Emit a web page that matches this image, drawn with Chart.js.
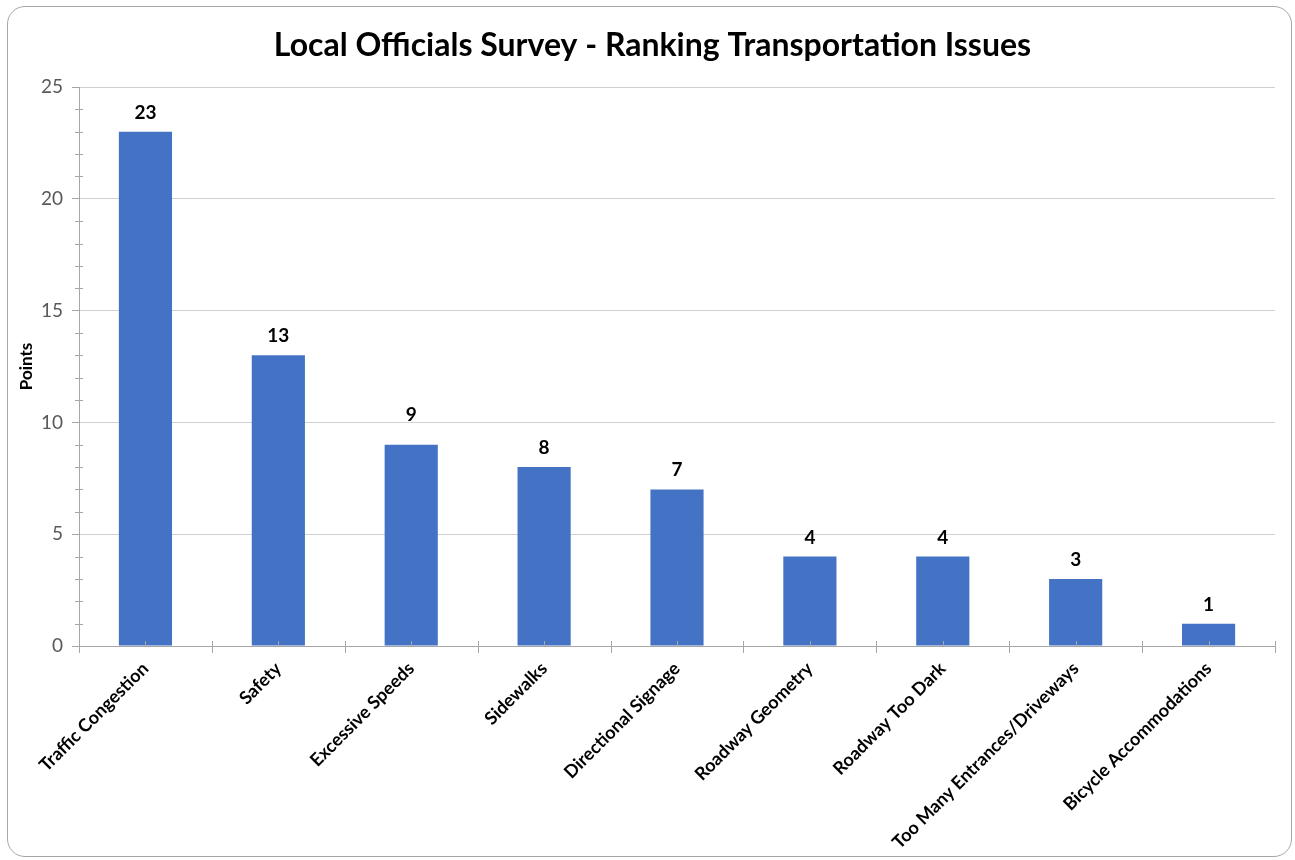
<!DOCTYPE html>
<html><head><meta charset="utf-8">
<script src="https://cdn.jsdelivr.net/npm/chart.js@4"></script>
<style>
html,body{margin:0;padding:0;background:#fff;}
#wrap{position:relative;width:1295px;height:860px;}
#frame{position:absolute;left:7px;top:6px;width:1285px;height:851px;border:1.5px solid #a6a6a6;border-radius:18px;box-sizing:border-box;}
canvas{position:absolute;left:0;top:0;}
</style></head>
<body>
<div id="wrap"><div id="frame"></div><canvas id="c" width="1295" height="860"></canvas></div>
<script>
const categories = ["Traffic Congestion","Safety","Excessive Speeds","Sidewalks","Directional Signage","Roadway Geometry","Roadway Too Dark","Too Many Entrances/Driveways","Bicycle Accommodations"];
const points = [23,13,9,8,7,4,4,3,1];
const yTicks = [0,5,10,15,20,25];
const FONT = "Lato, 'Open Sans', sans-serif";
// label nudges (style): the "9" label sits higher to clear the gridline
const labelLift = [0,0,11,0,0,0,0,0,0];

const extras = {
  id:'extras',
  afterDraw(chart){
    const ctx = chart.ctx, y = chart.scales.y, x = chart.scales.x;
    ctx.save();
    ctx.strokeStyle = '#a6a6a6'; ctx.lineWidth = 1;
    for(let v=0; v<=25; v++){
      if(v%5===0) continue;
      const py = Math.round(y.getPixelForValue(v))+0.5;
      ctx.beginPath(); ctx.moveTo(y.right-4, py); ctx.lineTo(y.right+4, py); ctx.stroke();
    }
    const base = Math.round(y.getPixelForValue(0));
    for(let i=0;i<=categories.length;i++){
      const px = Math.round(x.getPixelForValue(i-0.5))+0.5;
      ctx.beginPath(); ctx.moveTo(px, base-5); ctx.lineTo(px, base+7); ctx.stroke();
    }
    for(let i=0;i<categories.length;i++){
      const px = Math.round(x.getPixelForValue(i))+0.5;
      ctx.beginPath(); ctx.moveTo(px, base-5); ctx.lineTo(px, base); ctx.stroke();
    }
    const meta = chart.getDatasetMeta(0);
    ctx.fillStyle = '#000';
    ctx.font = "bold 19px " + FONT;
    ctx.textAlign = 'center'; ctx.textBaseline = 'alphabetic';
    meta.data.forEach((bar, i)=>{
      ctx.fillText(String(points[i]), bar.x, bar.y - 13 - labelLift[i]);
    });
    ctx.restore();
  }
};

new Chart(document.getElementById('c'), {
  type:'bar',
  data:{labels:categories, datasets:[{data:points, backgroundColor:'#4472C4', barPercentage:0.4, categoryPercentage:1.0}]},
  options:{
    responsive:false, animation:false,
    layout:{padding:{left:30,right:20,top:0,bottom:0}},
    plugins:{
      legend:{display:false}, tooltip:{enabled:false},
      title:{display:true, text:'Local Officials Survey - Ranking Transportation Issues', color:'#000',
        font:{family:FONT, size:32, weight:'bold'}, padding:{top:26,bottom:22.6}}
    },
    scales:{
      y:{min:0,max:25,
        afterBuildTicks(s){ s.ticks = yTicks.map(v=>({value:v})); },
        afterFit(s){ s.width = 49; },
        ticks:{color:'#595959', font:{family:FONT,size:19}, padding:9},
        grid:{color:'#d0d0d0', tickColor:'#a6a6a6', tickLength:7},
        border:{display:true,color:'#a6a6a6'},
        title:{display:true,text:'Points',color:'#000',font:{family:FONT,size:17,weight:'bold'},padding:{top:-13.7,bottom:0}}
      },
      x:{
        afterFit(s){ s.height = 214; },
        ticks:{color:'#000', font:{family:FONT,size:18,weight:'bold'}, maxRotation:45, minRotation:45, padding:4, autoSkip:false},
        grid:{display:false, offset:true},
        border:{display:true,color:'#a6a6a6'}
      }
    }
  },
  plugins:[extras]
});
</script>
</body></html>
